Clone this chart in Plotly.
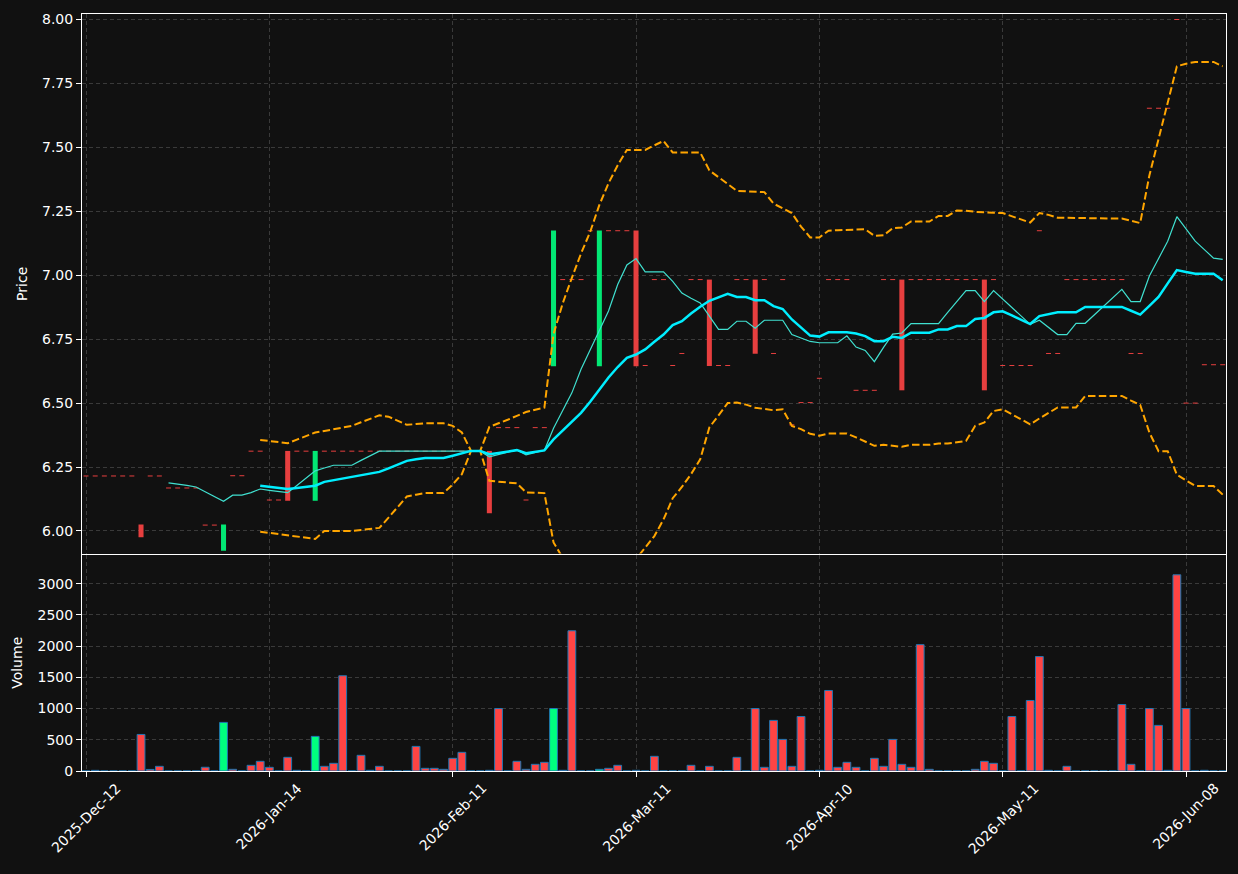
import plotly.graph_objects as go

# ---------------- data ----------------
tick_pos = [0, 20, 40, 60, 80, 100, 120]
tick_labels = ["2025-Dec-12", "2026-Jan-14", "2026-Feb-11", "2026-Mar-11",
               "2026-Apr-10", "2026-May-11", "2026-Jun-08"]

price_ticks = [6.00, 6.25, 6.50, 6.75, 7.00, 7.25, 7.50, 7.75, 8.00]
volume_ticks = [0, 500, 1000, 1500, 2000, 2500, 3000]

opens = [
    6.215, 6.215, 6.215, 6.215, 6.215, 6.215, 6.025, 6.215, 6.215, 6.168,
    6.168, 6.168, 6.168, 6.023, 6.023, 5.923, 6.216, 6.216, 6.312, 6.312,
    6.121, 6.121, 6.313, 6.312, 6.312, 6.118, 6.312, 6.312, 6.312, 6.312,
    6.312, 6.312, 6.312, 6.312, 6.312, 6.312, 6.312, 6.312, 6.312, 6.312,
    6.312, 6.312, 6.312, 6.312, 6.313, 6.404, 6.404, 6.404, 6.121, 6.404,
    6.404, 6.644, 6.983, 6.983, 6.983, 7.174, 6.644, 7.174, 7.174, 7.174,
    7.175, 6.647, 6.983, 6.983, 6.647, 6.694, 6.983, 6.983, 6.983, 6.647,
    6.647, 6.983, 6.983, 6.983, 6.983, 6.694, 6.983, 6.415, 6.502, 6.502,
    6.597, 6.983, 6.983, 6.983, 6.550, 6.550, 6.550, 6.983, 6.983, 6.983,
    6.983, 6.983, 6.983, 6.983, 6.983, 6.983, 6.983, 6.983, 6.983, 6.983,
    6.647, 6.647, 6.647, 6.647, 7.174, 6.694, 6.694, 6.983, 6.983, 6.983,
    6.983, 6.983, 6.983, 6.983, 6.694, 6.694, 7.653, 7.653, 7.653, 8.000,
    6.500, 6.500, 6.650, 6.650, 6.650,
]
closes = [
    6.215, 6.215, 6.215, 6.215, 6.215, 6.215, 5.975, 6.215, 6.215, 6.168,
    6.168, 6.168, 6.168, 6.023, 6.023, 6.025, 6.216, 6.216, 6.312, 6.312,
    6.121, 6.121, 6.118, 6.312, 6.312, 6.313, 6.312, 6.312, 6.312, 6.312,
    6.312, 6.312, 6.312, 6.312, 6.312, 6.312, 6.312, 6.312, 6.312, 6.312,
    6.312, 6.312, 6.312, 6.312, 6.069, 6.404, 6.404, 6.404, 6.121, 6.404,
    6.404, 7.175, 6.983, 6.983, 6.983, 7.174, 7.175, 7.174, 7.174, 7.174,
    6.644, 6.647, 6.983, 6.983, 6.647, 6.694, 6.983, 6.983, 6.645, 6.647,
    6.647, 6.983, 6.983, 6.693, 6.983, 6.694, 6.983, 6.415, 6.502, 6.502,
    6.597, 6.983, 6.983, 6.983, 6.550, 6.550, 6.550, 6.983, 6.983, 6.550,
    6.983, 6.983, 6.983, 6.983, 6.983, 6.983, 6.983, 6.983, 6.550, 6.983,
    6.647, 6.647, 6.647, 6.647, 7.174, 6.694, 6.694, 6.983, 6.983, 6.983,
    6.983, 6.983, 6.983, 6.983, 6.694, 6.694, 7.653, 7.653, 7.653, 8.000,
    6.500, 6.500, 6.650, 6.650, 6.650,
]
volumes = [
    0, 10, 0, 0, 0, 0, 585, 25, 75, 0,
    0, 0, 0, 60, 0, 778, 27, 0, 91, 155,
    59, 0, 219, 11, 0, 554, 75, 123, 1525, 0,
    251, 11, 75, 0, 0, 0, 394, 43, 43, 27,
    203, 299, 0, 0, 11, 1000, 0, 155, 27, 107,
    139, 1000, 11, 2245, 0, 0, 27, 43, 91, 0,
    11, 0, 235, 0, 0, 0, 91, 0, 75, 0,
    0, 219, 0, 1000, 59, 810, 506, 75, 873, 0,
    11, 1289, 59, 139, 59, 0, 203, 75, 506, 107,
    59, 2023, 27, 0, 0, 0, 0, 27, 155, 123,
    0, 873, 0, 1129, 1832, 11, 0, 75, 0, 0,
    0, 0, 0, 1065, 107, 0, 1000, 730, 11, 3141,
    1000, 0, 11, 0, 0,
]

ma10_start = 9
ma10 = [
    6.188, 6.184, 6.178, 6.172, 6.153, 6.134, 6.116, 6.140, 6.140, 6.150,
    6.164, 6.159, 6.155, 6.150, 6.178, 6.207, 6.235, 6.246, 6.257, 6.257,
    6.257, 6.276, 6.294, 6.312, 6.312, 6.312, 6.312, 6.312, 6.312, 6.312,
    6.312, 6.312, 6.312, 6.312, 6.312, 6.290, 6.299, 6.308, 6.317, 6.298,
    6.307, 6.316, 6.402, 6.470, 6.540, 6.632, 6.708, 6.783, 6.860, 6.964,
    7.040, 7.065, 7.013, 7.013, 7.013, 6.976, 6.930, 6.910, 6.892, 6.840,
    6.788, 6.788, 6.820, 6.820, 6.793, 6.824, 6.824, 6.824, 6.768, 6.754,
    6.741, 6.736, 6.736, 6.736, 6.763, 6.719, 6.706, 6.662, 6.718, 6.770,
    6.774, 6.811, 6.811, 6.811, 6.811, 6.855, 6.898, 6.940, 6.940, 6.897,
    6.940, 6.906, 6.872, 6.840, 6.808, 6.824, 6.796, 6.768, 6.768, 6.812,
    6.812, 6.845, 6.878, 6.912, 6.945, 6.897, 6.897, 6.997, 7.065, 7.133,
    7.229, 7.180, 7.133, 7.100, 7.067, 7.062,
]

ma20_start = 19
ma20 = [
    6.177, 6.172, 6.168, 6.164, 6.168, 6.172, 6.177, 6.192, 6.198, 6.204,
    6.210, 6.217, 6.224, 6.231, 6.245, 6.260, 6.274, 6.280, 6.285, 6.285,
    6.285, 6.294, 6.303, 6.313, 6.313, 6.300, 6.305, 6.310, 6.316, 6.304,
    6.309, 6.315, 6.358, 6.392, 6.425, 6.462, 6.505, 6.553, 6.600, 6.641,
    6.677, 6.690, 6.710, 6.740, 6.768, 6.805, 6.820, 6.850, 6.877, 6.900,
    6.914, 6.927, 6.915, 6.915, 6.902, 6.902, 6.879, 6.868, 6.827, 6.796,
    6.764, 6.760, 6.777, 6.777, 6.777, 6.772, 6.762, 6.742, 6.742, 6.759,
    6.755, 6.775, 6.775, 6.775, 6.788, 6.788, 6.801, 6.801, 6.829, 6.833,
    6.855, 6.859, 6.843, 6.826, 6.809, 6.840, 6.848, 6.855, 6.855, 6.855,
    6.876, 6.876, 6.876, 6.876, 6.876, 6.861, 6.846, 6.880, 6.915, 6.968,
    7.020, 7.013, 7.006, 7.006, 7.006, 6.980,
]

bb_start = 19
bb_upper = [
    6.356, 6.352, 6.347, 6.343, 6.357, 6.371, 6.385, 6.391, 6.397, 6.404,
    6.411, 6.425, 6.438, 6.452, 6.447, 6.431, 6.415, 6.418, 6.421, 6.421,
    6.421, 6.411, 6.385, 6.313, 6.313, 6.407, 6.420, 6.435, 6.450, 6.465,
    6.474, 6.482, 6.770, 6.890, 6.990, 7.085, 7.170, 7.275, 7.360, 7.430,
    7.490, 7.490, 7.490, 7.508, 7.525, 7.480, 7.480, 7.480, 7.480, 7.410,
    7.384, 7.357, 7.330, 7.328, 7.326, 7.325, 7.280, 7.260, 7.243, 7.190,
    7.148, 7.148, 7.174, 7.176, 7.177, 7.178, 7.180, 7.154, 7.156, 7.184,
    7.187, 7.210, 7.210, 7.210, 7.232, 7.232, 7.253, 7.252, 7.248, 7.245,
    7.244, 7.243, 7.230, 7.217, 7.206, 7.243, 7.236, 7.225, 7.224, 7.224,
    7.222, 7.222, 7.222, 7.222, 7.222, 7.213, 7.204, 7.390, 7.530, 7.670,
    7.817, 7.827, 7.834, 7.834, 7.834, 7.817,
]
bb_lower = [
    5.997, 5.992, 5.987, 5.982, 5.978, 5.973, 5.969, 6.000, 6.000, 6.000,
    6.000, 6.004, 6.008, 6.012, 6.052, 6.095, 6.135, 6.142, 6.148, 6.148,
    6.148, 6.182, 6.222, 6.313, 6.313, 6.196, 6.193, 6.190, 6.186, 6.151,
    6.150, 6.148, 5.955, 5.895, 5.860, 5.840, 5.840, 5.830, 5.840, 5.852,
    5.864, 5.890, 5.935, 5.980, 6.045, 6.128, 6.172, 6.222, 6.280, 6.405,
    6.452, 6.500, 6.502, 6.494, 6.482, 6.478, 6.472, 6.476, 6.411, 6.398,
    6.380, 6.372, 6.381, 6.381, 6.381, 6.366, 6.350, 6.333, 6.337, 6.333,
    6.329, 6.337, 6.337, 6.337, 6.342, 6.342, 6.347, 6.352, 6.411, 6.424,
    6.469, 6.476, 6.456, 6.436, 6.417, 6.440, 6.460, 6.483, 6.483, 6.483,
    6.528, 6.528, 6.528, 6.528, 6.528, 6.510, 6.493, 6.385, 6.312, 6.312,
    6.220, 6.198, 6.176, 6.176, 6.176, 6.142,
]

# ---------------- styling ----------------
BG = "#111111"
GRID = "#3a3a3a"
UP_BODY = "rgb(2,231,116)"
DOWN_BODY = "rgb(231,63,63)"
UP_VOL = "#00ff7f"
DOWN_VOL = "#ff4444"
VOL_EDGE = "#1f77b4"
FONT = "DejaVu Sans"

n = len(closes)
idx = list(range(n))

# candle bodies (non-flat) and flat candles (open == close)
body_x, body_base, body_h, body_col = [], [], [], []
doji_x, doji_y = [], []
half = 0.27
for i, (o, c) in enumerate(zip(opens, closes)):
    if abs(o - c) < 1e-9:
        doji_x += [i - half, i + half, None]
        doji_y += [c, c, None]
    else:
        body_x.append(i)
        body_base.append(min(o, c))
        body_h.append(abs(c - o))
        body_col.append(UP_BODY if c > o else DOWN_BODY)

vol_col = [UP_VOL if c > o else DOWN_VOL for o, c in zip(opens, closes)]

fig = go.Figure()

fig.add_trace(go.Bar(
    x=body_x, y=body_h, base=body_base, width=0.55,
    marker=dict(color=body_col, line=dict(width=0)),
    xaxis="x", yaxis="y", hoverinfo="skip"))
fig.add_trace(go.Scatter(
    x=doji_x, y=doji_y, mode="lines",
    line=dict(color=DOWN_BODY, width=1),
    xaxis="x", yaxis="y", hoverinfo="skip"))

bb_x = list(range(bb_start, bb_start + len(bb_upper)))
for arr in (bb_upper, bb_lower):
    fig.add_trace(go.Scatter(
        x=bb_x, y=arr, mode="lines",
        line=dict(color="#ffa500", width=2, dash="7.5px,3.3px"),
        xaxis="x", yaxis="y"))

fig.add_trace(go.Scatter(
    x=list(range(ma10_start, ma10_start + len(ma10))), y=ma10, mode="lines",
    line=dict(color="#40e0d0", width=1.2), xaxis="x", yaxis="y"))
fig.add_trace(go.Scatter(
    x=list(range(ma20_start, ma20_start + len(ma20))), y=ma20, mode="lines",
    line=dict(color="#00eeff", width=2.5), xaxis="x", yaxis="y"))

fig.add_trace(go.Bar(
    x=idx, y=volumes, width=0.85,
    marker=dict(color=vol_col, line=dict(color=VOL_EDGE, width=1)),
    xaxis="x2", yaxis="y2"))

xr = [-0.44, 124.36]
common = dict(showline=True, linecolor="white", linewidth=1, mirror=True,
              gridcolor=GRID, griddash="4px,3px", gridwidth=1, zeroline=False,
              tickfont=dict(color="white", size=14, family=FONT),
              tickcolor="white")

# rotated date labels, centred under their ticks (as in the reference)
annotations = [
    dict(x=p, y=0, xref="x2", yref="y2 domain", text=t, showarrow=False,
         textangle=-45, xanchor="center", yanchor="top", yshift=-8,
         borderpad=0, font=dict(color="white", size=14, family=FONT))
    for p, t in zip(tick_pos, tick_labels)
]

fig.update_layout(
    width=1238, height=874,
    margin=dict(l=82, r=11, t=12, b=103),
    paper_bgcolor=BG, plot_bgcolor=BG,
    showlegend=False, barmode="overlay",
    font=dict(family=FONT, color="white", size=14),
    annotations=annotations,
    xaxis=dict(domain=[0, 1], anchor="y", range=xr, tickvals=tick_pos,
               showticklabels=False, ticks="", **common),
    xaxis2=dict(domain=[0, 1], anchor="y2", range=xr, matches="x",
                tickvals=tick_pos, showticklabels=False,
                ticks="outside", ticklen=5, **common),
    yaxis=dict(domain=[0.2872, 1], anchor="x", range=[5.9115, 8.0215],
               tickvals=price_ticks, tickformat=".2f",
               ticks="outside", ticklen=5,
               title=dict(text="Price", standoff=11,
                          font=dict(color="white", size=14, family=FONT)),
               **common),
    yaxis2=dict(domain=[0, 0.2859], anchor="x2", range=[0, 3465],
                tickvals=volume_ticks, tickformat="d",
                ticks="outside", ticklen=5,
                title=dict(text="Volume", standoff=11,
                           font=dict(color="white", size=14, family=FONT)),
                **common),
)

fig.write_html("out.html")
